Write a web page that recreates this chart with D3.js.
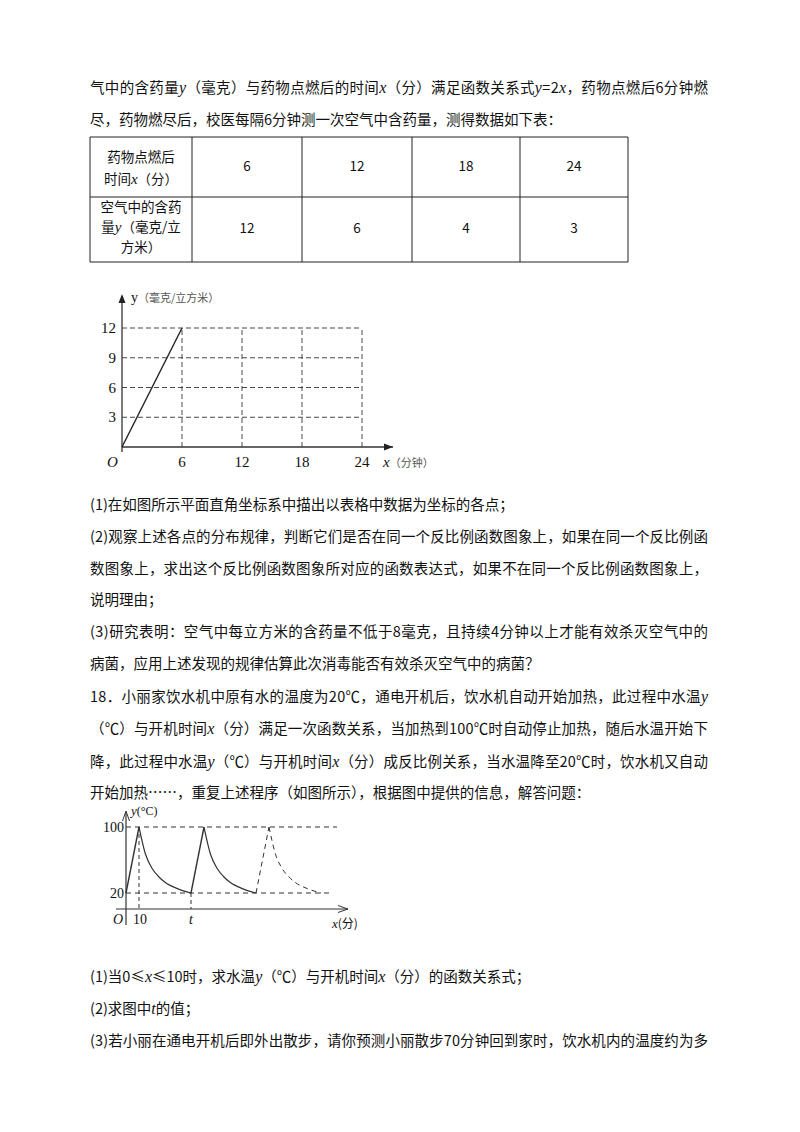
<!DOCTYPE html><html><head><meta charset="utf-8"><script src="https://cdn.jsdelivr.net/npm/d3@7"></script>
<style>body{margin:0;background:#fff}</style></head><body>
<svg id="s" width="800" height="1132" font-family="Noto Sans CJK SC" fill="#111"></svg>
<script>
// Table data
const tableX = [6, 12, 18, 24];
const tableY = [12, 6, 4, 3];
// Chart 1
const c1XTicks = [6, 12, 18, 24];
const c1YTicks = [3, 6, 9, 12];
const c1Line = [[0, 0], [6, 12]];
// Chart 2
const c2Solid1 = [[0,20],[10,100]];
const c2Decay1 = [[10,100],[15,67],[20,50],[25,40],[30,33],[40,25],[50,20]];
const c2Solid2 = [[50,20],[60,100]];
const c2Decay2 = [[60,100],[65,67],[70,50],[75,40],[80,33],[90,25],[100,20]];
const c2Dash3 = [[100,20],[110,100]];
const c2Decay3 = [[110,100],[115,67],[120,50],[125,40],[130,33],[140,25],[150,20]];

const svg = d3.select("#s");
const L = 90, R = 708;
function line(y, str, full) {
  const t = svg.append("text").attr("x", L).attr("y", y).attr("font-size", 14.5);
  str.split(/(\{[^}]*\})/).forEach(p => {
    if (p.startsWith("{")) t.append("tspan").attr("font-style","italic").attr("font-family","Liberation Serif").attr("font-size",16).text(p.slice(1,-1));
    else if (p) t.append("tspan").text(p);
  });
  if (full) t.attr("textLength", R - L).attr("lengthAdjust", "spacing");
}
line(93, "气中的含药量{y}（毫克）与药物点燃后的时间{x}（分）满足函数关系式{y}=2{x}，药物点燃后6分钟燃", true);
line(125, "尽，药物燃尽后，校医每隔6分钟测一次空气中含药量，测得数据如下表：");
// table
const colX = [90, 192, 302, 412, 520, 628], rowY = [137, 197, 262];
colX.forEach(x => svg.append("line").attr("x1",x).attr("x2",x).attr("y1",rowY[0]).attr("y2",rowY[2]).attr("stroke","#222"));
rowY.forEach(y => svg.append("line").attr("x1",colX[0]).attr("x2",colX[5]).attr("y1",y).attr("y2",y).attr("stroke","#222"));
const cellT = (x, y, s) => svg.append("text").attr("x",x).attr("y",y).attr("text-anchor","middle").attr("font-size",13.5).text(s);
cellT(141,162,"药物点燃后");
{const t=svg.append("text").attr("x",141).attr("y",184).attr("text-anchor","middle").attr("font-size",13.5);t.append("tspan").text("时间");t.append("tspan").attr("font-style","italic").attr("font-family","Liberation Serif").attr("font-size",15).text("x");t.append("tspan").text("（分）");}
cellT(141,212,"空气中的含药");
{const t=svg.append("text").attr("x",141).attr("y",232).attr("text-anchor","middle").attr("font-size",13.5);t.append("tspan").text("量");t.append("tspan").attr("font-style","italic").attr("font-family","Liberation Serif").attr("font-size",15).text("y");t.append("tspan").text("（毫克/立");}
cellT(141,252,"方米）");
tableX.forEach((v,i)=>cellT((colX[i+1]+colX[i+2])/2,171,v));
tableY.forEach((v,i)=>cellT((colX[i+1]+colX[i+2])/2,233,v));

// Chart 1
const x1 = d3.scaleLinear().domain([0,24]).range([122,362]);
const y1 = d3.scaleLinear().domain([0,12]).range([447,328]);
const g1 = svg.append("g").attr("stroke","#333");
c1YTicks.forEach(v => g1.append("line").attr("x1",x1(0)).attr("x2",x1(24)).attr("y1",y1(v)).attr("y2",y1(v)).attr("stroke-dasharray","5,3").attr("stroke-width",0.9));
c1XTicks.forEach(v => g1.append("line").attr("x1",x1(v)).attr("x2",x1(v)).attr("y1",y1(0)).attr("y2",y1(12)).attr("stroke-dasharray","5,3").attr("stroke-width",0.9));
g1.append("line").attr("x1",x1(0)).attr("x2",393).attr("y1",y1(0)).attr("y2",y1(0)).attr("stroke-width",1.3);
g1.append("line").attr("x1",x1(0)).attr("x2",x1(0)).attr("y1",y1(0)+5).attr("y2",296).attr("stroke-width",1.3);
svg.append("path").attr("d",`M393,${y1(0)}l-9,-3.5v7z`).attr("fill","#222");
svg.append("path").attr("d",`M${x1(0)},294l-3.5,9h7z`).attr("fill","#222");
svg.append("path").attr("d",d3.line().x(d=>x1(d[0])).y(d=>y1(d[1]))(c1Line)).attr("stroke","#222").attr("stroke-width",1.4).attr("fill","none");
const st = (x,y,s,a,sz) => svg.append("text").attr("x",x).attr("y",y).attr("text-anchor",a||"middle").attr("font-family","Liberation Serif").attr("font-size",sz||15).text(s);
c1XTicks.forEach(v=>st(x1(v),467,v));
c1YTicks.forEach(v=>st(x1(0)-6,y1(v)+5,v,"end"));
svg.append("text").attr("x",107).attr("y",467).attr("font-family","Liberation Serif").attr("font-style","italic").attr("font-size",15).text("O");
{const t=svg.append("text").attr("x",131).attr("y",302).attr("font-size",11).attr("fill","#555");t.append("tspan").attr("font-family","Liberation Serif").attr("font-size",14).attr("fill","#111").text("y");t.append("tspan").text("（毫克/立方米）");}
{const t=svg.append("text").attr("x",383).attr("y",467).attr("font-size",11).attr("fill","#555");t.append("tspan").attr("font-family","Liberation Serif").attr("font-style","italic").attr("font-size",15).attr("fill","#111").text("x");t.append("tspan").text("（分钟）");}

line(510, "(1)在如图所示平面直角坐标系中描出以表格中数据为坐标的各点；");
line(542, "(2)观察上述各点的分布规律，判断它们是否在同一个反比例函数图象上，如果在同一个反比例函", true);
line(574, "数图象上，求出这个反比例函数图象所对应的函数表达式，如果不在同一个反比例函数图象上，", true);
line(605, "说明理由；");
line(637, "(3)研究表明：空气中每立方米的含药量不低于8毫克，且持续4分钟以上才能有效杀灭空气中的", true);
line(669, "病菌，应用上述发现的规律估算此次消毒能否有效杀灭空气中的病菌？");
line(702, "18．小丽家饮水机中原有水的温度为20℃，通电开机后，饮水机自动开始加热，此过程中水温{y}", true);
line(734, "（℃）与开机时间{x}（分）满足一次函数关系，当加热到100℃时自动停止加热，随后水温开始下", true);
line(767, "降，此过程中水温{y}（℃）与开机时间{x}（分）成反比例关系，当水温降至20℃时，饮水机又自动", true);
line(798, "开始加热……，重复上述程序（如图所示），根据图中提供的信息，解答问题：");

// Chart 2
const x2 = d3.scaleLinear().domain([0,10]).range([126,139]);
const y2 = d3.scaleLinear().domain([20,100]).range([893,827]);
const ax = 909;
const g2 = svg.append("g").attr("stroke","#333").attr("fill","none");
g2.append("line").attr("x1",116).attr("x2",348).attr("y1",ax).attr("y2",ax).attr("stroke-width",1.2);
g2.append("line").attr("x1",x2(0)).attr("x2",x2(0)).attr("y1",925).attr("y2",812).attr("stroke-width",1.2);
g2.append("path").attr("d",`M348,${ax}l-10,-3.5M348,${ax}l-10,3.5M${x2(0)},811l-3.5,10M${x2(0)},811l3.5,10`);
g2.append("line").attr("x1",x2(0)).attr("x2",337).attr("y1",y2(100)).attr("y2",y2(100)).attr("stroke-dasharray","5,4");
g2.append("line").attr("x1",x2(0)).attr("x2",333).attr("y1",y2(20)).attr("y2",y2(20)).attr("stroke-dasharray","5,4");
g2.append("line").attr("x1",x2(10)).attr("x2",x2(10)).attr("y1",y2(100)).attr("y2",ax).attr("stroke-dasharray","4,3");
g2.append("line").attr("x1",x2(50)).attr("x2",x2(50)).attr("y1",y2(20)).attr("y2",ax).attr("stroke-dasharray","4,3");
const ln = d3.line().x(d=>x2(d[0])).y(d=>y2(d[1]));
const lc = d3.line().x(d=>x2(d[0])).y(d=>y2(d[1])).curve(d3.curveMonotoneX);
[c2Solid1,c2Solid2].forEach(d=>g2.append("path").attr("d",ln(d)).attr("stroke-width",1.4));
[c2Decay1,c2Decay2].forEach(d=>g2.append("path").attr("d",lc(d)).attr("stroke-width",1.2));
g2.append("path").attr("d",ln(c2Dash3)).attr("stroke-dasharray","5,4");
g2.append("path").attr("d",lc(c2Decay3)).attr("stroke-dasharray","5,4");
st(124,832,"100","end",14); st(124,898,"20","end",14);
svg.append("text").attr("x",113).attr("y",924).attr("font-family","Liberation Serif").attr("font-style","italic").attr("font-size",14).text("O");
st(140,924,"10","middle",14);
svg.append("text").attr("x",x2(50)).attr("y",924).attr("text-anchor","middle").attr("font-family","Liberation Serif").attr("font-style","italic").attr("font-size",14).text("t");
{const t=svg.append("text").attr("x",131).attr("y",815).attr("font-size",12).attr("font-family","Liberation Serif");t.append("tspan").attr("font-style","italic").attr("font-size",13).text("y");t.append("tspan").text("(°C)");}
{const t=svg.append("text").attr("x",332).attr("y",928).attr("font-size",12);t.append("tspan").attr("font-family","Liberation Serif").attr("font-style","italic").attr("font-size",13).text("x");t.append("tspan").text("(分)");}

line(982, "(1)当0≤{x}≤10时，求水温{y}（℃）与开机时间{x}（分）的函数关系式；");
line(1014, "(2)求图中{t}的值；");
line(1046, "(3)若小丽在通电开机后即外出散步，请你预测小丽散步70分钟回到家时，饮水机内的温度约为多", true);
</script></body></html>
